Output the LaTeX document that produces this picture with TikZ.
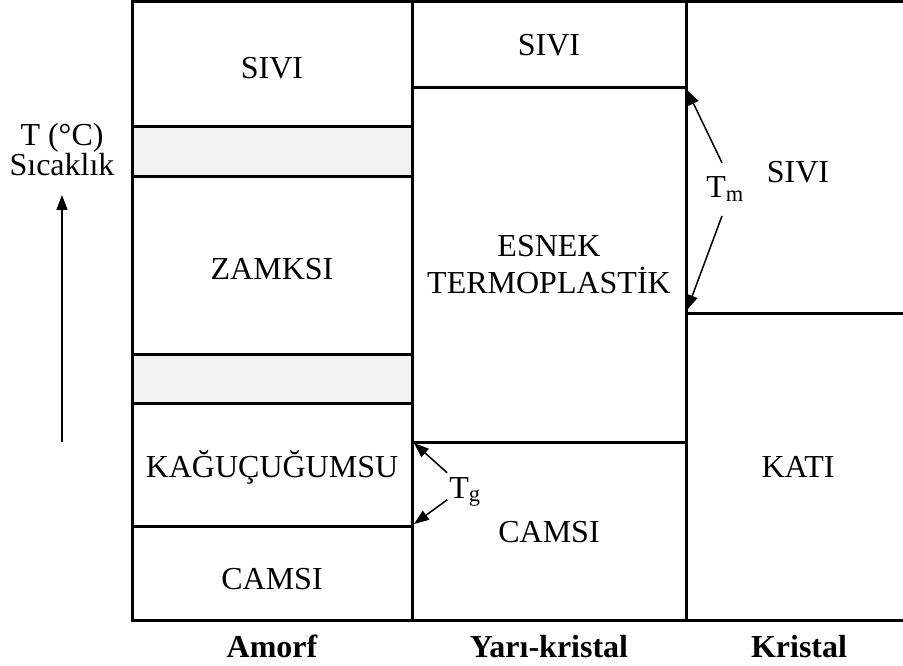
\documentclass[tikz,border=0pt]{standalone}
\usepackage{fontspec}
\setmainfont{Liberation Serif}
\usetikzlibrary{arrows.meta}
\definecolor{band}{HTML}{F2F2F2}
\begin{document}
\begin{tikzpicture}[x=1pt,y=-1pt,
  grid/.style={line width=3pt, line cap=rect},
  lbl/.style={font=\fontsize{32}{36}\selectfont, inner sep=0pt, anchor=base, align=center},
  axlbl/.style={font=\fontsize{32}{36}\selectfont\bfseries, inner sep=0pt, anchor=base},
  arr/.style={line width=1.5pt, -{Triangle[length=15pt,width=11pt]}}]
\useasboundingbox (0,0) rectangle (903,666);
\clip (0,0) rectangle (903,666);
% bands
\fill[band] (132,127) rectangle (412,177);
\fill[band] (132,354) rectangle (412,403);
% frame and columns
\draw[grid] (920,2) -- (132,2) -- (132,620) -- (920,620);
\draw[grid] (412,2) -- (412,620);
\draw[grid] (686,2) -- (686,620);
% amorf lines
\draw[grid] (132,127) -- (412,127);
\draw[grid] (132,177) -- (412,177);
\draw[grid] (132,354) -- (412,354);
\draw[grid] (132,403) -- (412,403);
\draw[grid] (132,526) -- (412,526);
% yari-kristal lines
\draw[grid] (412,88) -- (686,88);
\draw[grid] (412,442) -- (686,442);
% kristal line
\draw[grid] (686,313) -- (920,313);
% texts
\node[lbl] (a1) at (272,79) {SIVI};
\node[lbl] (a2) at (272,279) {ZAMKSI};
\node[lbl] (a3) at (272,477) {KAĞUÇUĞUMSU};
\node[lbl] (a4) at (272,589) {CAMSI};
\node[lbl] (b1) at (549,56) {SIVI};
\node[lbl] (b2) at (549,256) {ESNEK};
\node[lbl] (b3) at (549,293) {TERMOPLASTİK};
\node[lbl] (b4) at (549,542) {CAMSI};
\node[lbl] (c1) at (798,183) {SIVI};
\node[lbl] (c2) at (798,477) {KATI};
\node[lbl] (tm) at (725,198) {T\textsubscript{m}};
\node[lbl] (tg) at (465,498) {T\textsubscript{g}};
\node[lbl] (t1) at (62,146) {T (°C)};
\node[lbl] (t2) at (62,176) {Sıcaklık};
\node[axlbl] (x1) at (272,657) {Amorf};
\node[axlbl] (x2) at (549,657) {Yarı-kristal};
\node[axlbl] (x3) at (799,657) {Kristal};
% arrows
\coordinate (tbot) at (62,442);
\coordinate (ttop) at (62,195);
\draw[arr] (tbot) -- (ttop);
\coordinate (tmhi) at (687,90);
\coordinate (tmlo) at (687,310);
\coordinate (tghi) at (414,443);
\coordinate (tglo) at (414,524);
\draw[arr] (tm.north) ++(-3,-14) coordinate (tmA) (tmA) -- (tmhi);
\draw[arr] (tm.south) ++(-3,14) coordinate (tmB) (tmB) -- (tmlo);
\draw[arr] (tg.west) ++(-2,-19) coordinate (tgA) (tgA) -- (tghi);
\draw[arr] (tg.west) ++(-2,8) coordinate (tgB) (tgB) -- (tglo);
\end{tikzpicture}
\end{document}
